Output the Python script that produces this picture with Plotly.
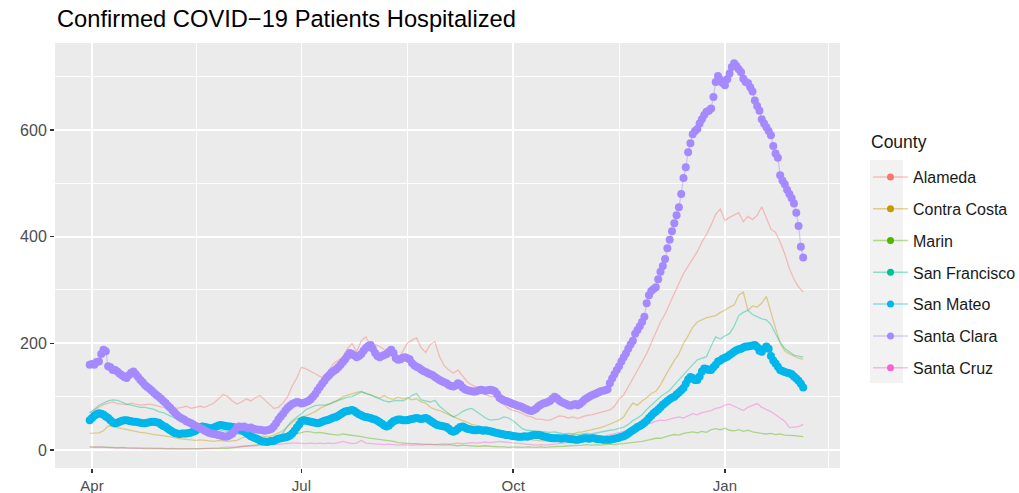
import pandas as pd
import plotly.graph_objects as go

# ---------------- data ----------------
START_DATE = "2020-03-31"

counties = ["Alameda", "Contra Costa", "Marin", "San Francisco",
            "San Mateo", "Santa Clara", "Santa Cruz"]
county_colors = ["#F8766D", "#C49A00", "#53B400", "#00C094",
                 "#00B6EB", "#A58AFF", "#FB61D7"]

# daily values (Mar 31 2020 - Feb 4 2021)
santa_clara = [
    160, 161, 160, 165, 166, 180, 188, 185, 157, 155,
    150, 150, 147, 143, 140, 137, 135, 140, 145, 147,
    142, 137, 131, 127, 122, 118, 115, 111, 107, 103,
    100, 96, 92, 88, 83, 79, 74, 70, 65, 62,
    59, 57, 54, 52, 50, 48, 45, 43, 41, 39,
    36, 34, 32, 31, 30, 29, 28, 27, 26, 25,
    26, 28, 31, 36, 42, 44, 43, 44, 42, 41,
    42, 40, 39, 38, 38, 37, 36, 37, 38, 40,
    44, 50, 57, 63, 68, 74, 79, 83, 86, 88,
    90, 89, 87, 88, 90, 92, 95, 100, 105, 112,
    118, 124, 130, 136, 140, 145, 148, 151, 155, 160,
    165, 170, 176, 182, 180, 177, 174, 176, 180, 186,
    191, 195, 197, 190, 182, 176, 174, 176, 178, 180,
    184, 188, 182, 172, 169, 170, 173, 174, 172, 170,
    163, 159, 156, 154, 151, 148, 146, 144, 142, 140,
    137, 134, 131, 129, 127, 125, 122, 120, 119, 121,
    125, 123, 117, 114, 112, 111, 110, 109, 110, 112,
    113, 112, 111, 112, 113, 112, 110, 105, 98, 95,
    93, 92, 90, 88, 86, 85, 83, 82, 80, 78,
    76, 74, 73, 75, 78, 82, 85, 87, 88, 90,
    92, 96, 100, 97, 93, 90, 88, 86, 84, 83,
    85, 86, 84, 86, 90, 94, 97, 100, 102, 104,
    106, 108, 110, 111, 112, 114, 125, 134, 142, 150,
    157, 166, 174, 181, 190, 198, 205, 218, 225, 232,
    240, 250, 275, 290, 298, 302, 305, 320, 334, 345,
    358, 378, 394, 410, 425, 440, 455, 480, 510, 530,
    558, 575, 592, 598, 602, 612, 620, 628, 634, 636,
    640, 662, 690, 701, 694, 688, 684, 695, 706, 718,
    725, 720, 714, 708, 696, 690, 688, 680, 672, 655,
    645, 636, 620, 612, 605, 598, 590, 570, 556, 548,
    515, 505, 498, 488, 480, 472, 462, 445, 420, 381,
    361,
]

san_mateo = [
    56, 60, 64, 67, 69, 68, 66, 63, 60, 56,
    52, 50, 51, 53, 55, 56, 56, 55, 54, 53,
    53, 52, 51, 50, 50, 51, 52, 53, 53, 52,
    51, 48, 45, 43, 40, 37, 34, 32, 31, 30,
    31, 31, 31, 32, 33, 34, 36, 40, 43, 44,
    43, 42, 41, 41, 42, 44, 46, 47, 46, 45,
    44, 44, 43, 42, 40, 38, 37, 35, 32, 29,
    26, 24, 22, 20, 18, 16, 16, 15, 16, 17,
    17, 19, 21, 22, 23, 24, 25, 27, 31, 36,
    42, 48, 54, 56, 55, 54, 53, 52, 51, 50,
    51, 53, 55, 56, 57, 59, 61, 62, 64, 67,
    70, 72, 73, 74, 75, 73, 70, 67, 65, 63,
    62, 61, 60, 58, 57, 55, 52, 49, 46, 44,
    46, 50, 54, 56, 57, 57, 56, 56, 56, 57,
    58, 59, 60, 59, 58, 59, 60, 58, 55, 52,
    49, 47, 46, 45, 44, 43, 40, 36, 34, 36,
    40, 43, 44, 42, 40, 39, 38, 37, 37, 38,
    37, 36, 37, 36, 35, 34, 33, 32, 31, 30,
    29, 28, 28, 27, 26, 26, 25, 25, 25, 26,
    25, 26, 27, 28, 28, 28, 27, 26, 25, 24,
    23, 22, 22, 22, 22, 21, 22, 22, 21, 20,
    20, 19, 19, 20, 21, 22, 22, 21, 22, 22,
    21, 20, 20, 19, 19, 19, 19, 20, 21, 22,
    23, 25, 26, 28, 31, 34, 37, 40, 43, 45,
    48, 51, 55, 60, 64, 69, 72, 76, 80, 85,
    88, 92, 95, 98, 100, 104, 108, 112, 116, 124,
    132, 137, 135, 131, 131, 138, 147, 153, 152, 150,
    150, 155, 160, 166, 168, 171, 173, 175, 178, 181,
    184, 187, 189, 190, 192, 194, 194, 195, 196, 197,
    193, 186, 184, 190, 194, 190, 176, 168, 162, 156,
    150, 148, 146, 145, 144, 142, 138, 134, 130, 124,
    117,
]

# every second day (Mar 31 2020 - Feb 4 2021)
alameda = [
    70, 75, 80, 85, 88, 90, 87, 86, 85, 88,
    86, 84, 85, 86, 84, 82, 80, 81, 80, 78,
    80, 82, 78, 80, 82, 80, 84, 88, 96, 104,
    100, 92, 86, 90, 96, 92, 98, 102, 94, 86,
    78, 80, 88, 100, 120, 135, 155, 152, 148, 143,
    138, 136, 150, 162, 168, 175, 190, 200, 184, 205,
    212, 196, 198, 194, 188, 178, 175, 170, 185, 200,
    206, 210, 192, 183, 198, 203, 175, 158, 150, 144,
    150, 140, 128, 122, 118, 108, 104, 100, 100, 98,
    85, 78, 74, 72, 68, 64, 62, 58, 58, 56,
    56, 60, 64, 63, 60, 62, 59, 62, 65, 66,
    68, 70, 72, 75, 82, 95, 103, 118, 135, 150,
    165, 181, 200, 220, 240, 255, 275, 294, 312, 331,
    345, 360, 372, 390, 404, 422, 442, 452, 430, 436,
    440, 445, 428, 438, 432, 440, 456, 436, 414, 408,
    390, 368, 340, 320, 306, 296,
]

contra_costa = [
    31, 31, 32, 36, 45, 44, 42, 40, 38, 36,
    35, 33, 32, 30, 29, 28, 27, 26, 24, 22,
    21, 20, 19, 18, 19, 18, 17, 16, 18, 17,
    16, 17, 18, 22, 25, 26, 27, 26, 25, 25,
    28, 32, 36, 44, 52, 58, 62, 64, 68, 72,
    78, 82, 86, 90, 94, 100, 103, 106, 108, 110,
    106, 104, 100, 98, 102, 97, 95, 99, 96, 98,
    94, 96, 90, 88, 80, 76, 74, 70, 66, 62,
    58, 55, 52, 48, 46, 44, 42, 40, 36, 33,
    31, 28, 26, 24, 22, 20, 19, 18, 17, 16,
    16, 17, 20, 24, 27, 30, 33, 34, 36, 37,
    40, 42, 45, 48, 52, 56, 62, 76, 88, 84,
    92, 98, 106, 110, 122, 138, 154, 168, 180, 200,
    214, 230, 240, 244, 248, 250, 252, 258, 262, 268,
    272, 290, 296, 262, 270, 268, 275, 288, 256, 228,
    200, 186, 180, 176, 172, 170,
]

marin = [
    6, 6, 5, 6, 5, 5, 4, 5, 4, 4,
    4, 3, 4, 3, 3, 3, 3, 2, 3, 2,
    2, 2, 2, 3, 2, 2, 3, 3, 2, 3,
    3, 4, 5, 6, 7, 8, 9, 10, 11, 12,
    14, 17, 20, 24, 28, 30, 33, 35, 34, 32,
    33, 31, 30, 29, 28, 30, 29, 27, 26, 25,
    23, 22, 21, 20, 19, 17, 16, 14, 13, 13,
    12, 12, 11, 11, 10, 10, 9, 9, 10, 9,
    8, 9, 8, 8, 7, 7, 8, 7, 6, 6,
    6, 5, 6, 5, 5, 6, 5, 5, 6, 5,
    6, 6, 7, 7, 8, 8, 9, 9, 10, 9,
    10, 9, 10, 11, 10, 11, 12, 12, 13, 14,
    16, 18, 20, 22, 22, 25, 27, 29, 28, 31,
    33, 34, 32, 35, 33, 38, 40, 38, 41, 37,
    36, 38, 35, 37, 34, 32, 31, 30, 31, 29,
    30, 28, 28, 27, 26, 25,
]

san_francisco = [
    70, 76, 84, 88, 92, 94, 93, 90, 86, 84,
    82, 80, 80, 78, 76, 72, 70, 66, 62, 58,
    56, 53, 50, 48, 46, 44, 42, 40, 38, 36,
    34, 32, 30, 28, 26, 24, 22, 20, 19, 20,
    22, 26, 32, 45, 55, 62, 68, 76, 80, 83,
    84, 84, 86, 90, 93, 96, 99, 100, 104, 109,
    106, 103, 100, 96, 92, 90, 92, 93, 92, 96,
    102, 106, 94, 92, 90, 93, 82, 75, 68, 62,
    66, 72, 76, 78, 72, 66, 60, 56, 57, 58,
    62, 60, 55, 48, 40, 37, 36, 35, 34, 34,
    33, 34, 32, 30, 31, 30, 29, 30, 31, 30,
    32, 34, 36, 37, 38, 40, 43, 48, 55, 60,
    66, 76, 84, 92, 100, 106, 112, 122, 132, 142,
    152, 160, 169, 172, 175, 195, 212, 208, 214, 218,
    232, 252, 258, 262, 254, 250, 246, 244, 235, 218,
    202, 190, 184, 178, 176, 174,
]

santa_cruz = [
    6, 5, 6, 5, 5, 4, 4, 4, 3, 3,
    3, 3, 2, 2, 2, 2, 2, 2, 1, 2,
    1, 1, 2, 2, 2, 3, 3, 4, 4, 5,
    5, 6, 6, 7, 7, 8, 8, 9, 10, 10,
    11, 11, 12, 12, 13, 13, 12, 12, 13, 12,
    13, 12, 13, 12, 14, 16, 14, 12, 13, 18,
    13, 12, 11, 11, 10, 11, 10, 9, 10, 9,
    9, 10, 9, 10, 11, 10, 11, 12, 11, 12,
    13, 12, 13, 14, 13, 14, 15, 14, 15, 16,
    15, 14, 13, 12, 11, 10, 10, 9, 10, 9,
    10, 11, 12, 12, 13, 14, 15, 16, 18, 20,
    22, 24, 26, 28, 30, 32, 35, 38, 42, 44,
    48, 52, 50, 54, 56, 55, 58, 60, 62, 60,
    64, 68, 66, 70, 72, 74, 78, 80, 84, 86,
    82, 78, 74, 80, 84, 87, 80, 76, 72, 66,
    60, 54, 42, 43, 44, 48,
]

y_ticks = [0, 200, 400, 600]
y_minor = [100, 300, 500, 700]
x_ticks = ["2020-04-01", "2020-07-01", "2020-10-01", "2021-01-01"]
x_tick_labels = ["Apr", "Jul", "Oct", "Jan"]
x_minor = ["2020-05-16 12:00", "2020-08-16", "2020-11-16", "2021-02-15"]

# ---------------- figure ----------------
daily_dates = pd.date_range(START_DATE, periods=len(santa_clara), freq="D")
two_day_dates = pd.date_range(START_DATE, periods=len(alameda), freq="2D")


def rgba(hex_color, a):
    h = hex_color.lstrip("#")
    r, g, b = int(h[0:2], 16), int(h[2:4], 16), int(h[4:6], 16)
    return f"rgba({r},{g},{b},{a})"


color_of = dict(zip(counties, county_colors))
thin_series = {
    "Alameda": alameda,
    "Contra Costa": contra_costa,
    "Marin": marin,
    "San Francisco": san_francisco,
    "Santa Cruz": santa_cruz,
}

fig = go.Figure()

for name, vals in thin_series.items():
    fig.add_trace(go.Scatter(
        x=two_day_dates, y=vals, mode="lines", name=name,
        line=dict(color=rgba(color_of[name], 0.42), width=1.3),
        showlegend=False,
    ))

for name, vals in [("San Mateo", san_mateo), ("Santa Clara", santa_clara)]:
    fig.add_trace(go.Scatter(
        x=daily_dates, y=vals, mode="lines+markers", name=name,
        line=dict(color=rgba(color_of[name], 0.42), width=1.3),
        marker=dict(color=color_of[name], size=8, line=dict(width=0)),
        showlegend=False,
    ))

# legend entries (point + line key, as in the reference)
for i, name in enumerate(counties):
    fig.add_trace(go.Scatter(
        x=[None], y=[None], mode="lines+markers", name=name,
        legendgroup=f"g{i}",
        line=dict(color=rgba(color_of[name], 0.42), width=1.5),
        marker=dict(color=color_of[name], size=7),
        showlegend=True,
    ))

PLOT_L, PLOT_R, PLOT_T, PLOT_B = 55, 840, 43, 468
W, H = 1019, 493
pw, ph = PLOT_R - PLOT_L, PLOT_B - PLOT_T

fig.update_layout(
    width=W, height=H,
    margin=dict(l=PLOT_L, r=W - PLOT_R, t=PLOT_T, b=H - PLOT_B, autoexpand=False),
    paper_bgcolor="white",
    plot_bgcolor="#EBEBEB",
    font=dict(family="Liberation Sans, Arial, sans-serif", color="#1A1A1A"),
    title=dict(
        text="Confirmed COVID\u221219 Patients Hospitalized",
        font=dict(size=23.7, color="#000000"),
        x=57 / W, xref="container", xanchor="left",
        y=1 - 19 / H, yref="container", yanchor="middle",
    ),
    legend=dict(
        font=dict(size=16, color="#1A1A1A"),
        x=(868 - PLOT_L) / pw, xanchor="left",
        y=(PLOT_B - 160) / ph, yanchor="top",
        bgcolor="rgba(0,0,0,0)",
        tracegroupgap=8,
        traceorder="grouped",
        itemwidth=35,
    ),
    showlegend=True,
    hovermode=False,
)

# legend title
fig.add_annotation(
    text="County", xref="paper", yref="paper",
    x=(869 - PLOT_L) / pw, y=(PLOT_B - 142) / ph,
    xanchor="left", yanchor="middle", showarrow=False,
    font=dict(size=17.5, color="#1A1A1A"),
)

fig.update_xaxes(
    type="date",
    range=["2020-03-15 22:00", "2021-02-20"],
    tickmode="array", tickvals=x_ticks, ticktext=x_tick_labels,
    ticks="outside", ticklen=4, tickwidth=1.4, tickcolor="#333333",
    tickfont=dict(size=15, color="#4D4D4D"),
    showgrid=True, gridcolor="white", gridwidth=1.8,
    minor=dict(tickmode="array", tickvals=x_minor, showgrid=True,
               gridcolor="white", gridwidth=0.9, ticklen=0),
    showline=False, zeroline=False, fixedrange=True,
)
fig.update_yaxes(
    range=[-33.75, 763],
    tickmode="array", tickvals=y_ticks,
    ticks="outside", ticklen=4, tickwidth=1.4, tickcolor="#333333",
    tickfont=dict(size=16, color="#4D4D4D"),
    showgrid=True, gridcolor="white", gridwidth=1.8,
    minor=dict(tickmode="array", tickvals=y_minor, showgrid=True,
               gridcolor="white", gridwidth=0.9, ticklen=0),
    showline=False, zeroline=False, fixedrange=True,
)

# grey background behind the legend keys (ggplot legend.key)
fig.add_shape(
    type="rect", xref="paper", yref="paper",
    x0=(870 - PLOT_L) / pw, x1=(903 - PLOT_L) / pw,
    y0=(PLOT_B - 383) / ph, y1=(PLOT_B - 160) / ph,
    fillcolor="#F2F2F2", line=dict(width=0), layer="below",
)

fig.write_html(
    "out.html",
    config={"displayModeBar": False, "staticPlot": True},
    post_script="document.body.style.margin='0px';document.body.style.padding='0px';",
)
